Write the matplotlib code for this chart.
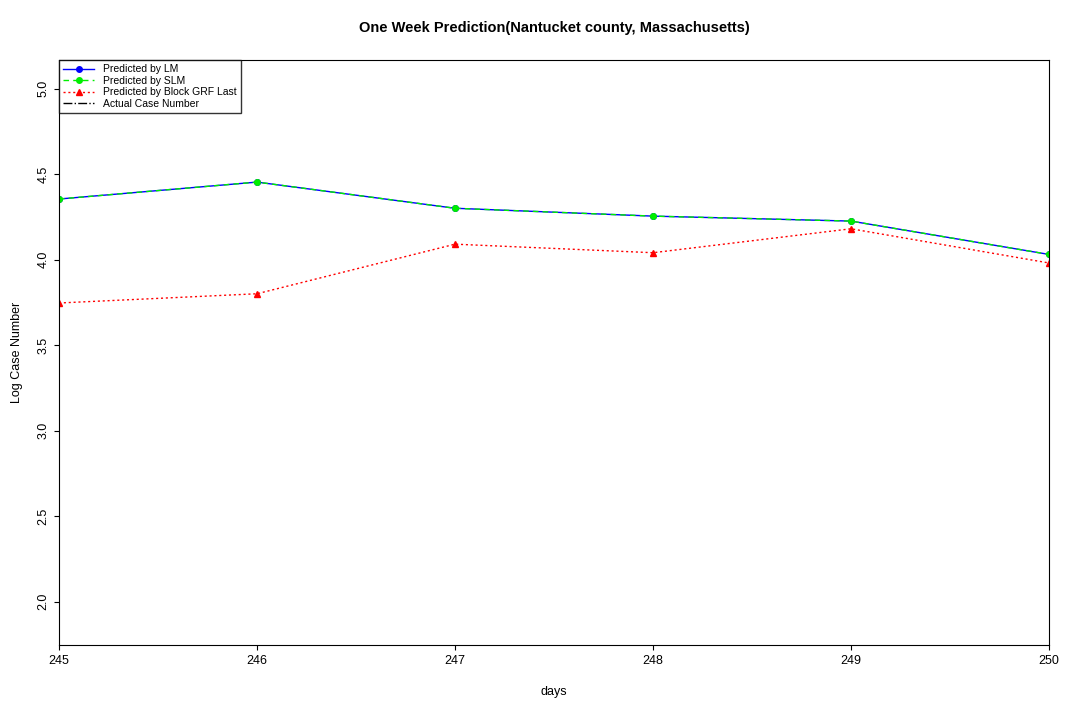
import matplotlib
matplotlib.use("Agg")
import matplotlib.pyplot as plt

days = [245, 246, 247, 248, 249, 250]
lm = [4.354, 4.453, 4.30, 4.254, 4.225, 4.03]
slm = [4.354, 4.453, 4.30, 4.254, 4.225, 4.03]
grf = [3.746, 3.80, 4.09, 4.04, 4.18, 3.98]

plt.rcParams['font.family'] = ['Liberation Sans', 'DejaVu Sans']
fig = plt.figure(figsize=(10.8, 7.2), dpi=100)
ax = fig.add_axes([59/1080, 1-645/720, 990/1080, 585/720])

ax.plot(days, lm, color='blue', lw=1, ls='-', marker='o', ms=4, label='Predicted by LM')
ax.plot(days, slm, color='#00ee00', lw=1, ls=(0, (4, 3)), marker='o', ms=4, label='Predicted by SLM')
ax.plot(days, grf, color='red', lw=1, ls=(0, (1.5, 2)), marker='^', ms=5, label='Predicted by Block GRF Last')
ax.plot([], [], color='black', lw=1, ls='-.', label='Actual Case Number')

ax.set_xlim(245, 250)
ax.set_ylim(1.746, 5.167)
ax.set_xticks(days)
ax.set_yticks([2.0, 2.5, 3.0, 3.5, 4.0, 4.5, 5.0])
ax.set_yticklabels(['2.0', '2.5', '3.0', '3.5', '4.0', '4.5', '5.0'], rotation=90, va='center')
ax.tick_params(labelsize=9)
ax.set_xlabel('days', fontsize=9, labelpad=14)
ax.set_ylabel('Log Case Number', fontsize=9, labelpad=10)
ax.set_title('One Week Prediction(Nantucket county, Massachusetts)', fontsize=10.5, fontweight='bold', pad=20)
leg = ax.legend(loc='upper left', fontsize=7.5, frameon=True, fancybox=False, edgecolor='black',
                borderaxespad=0, handlelength=3, labelspacing=0.15)
leg.get_frame().set_linewidth(1)
fig.savefig('out.png', dpi=100)
